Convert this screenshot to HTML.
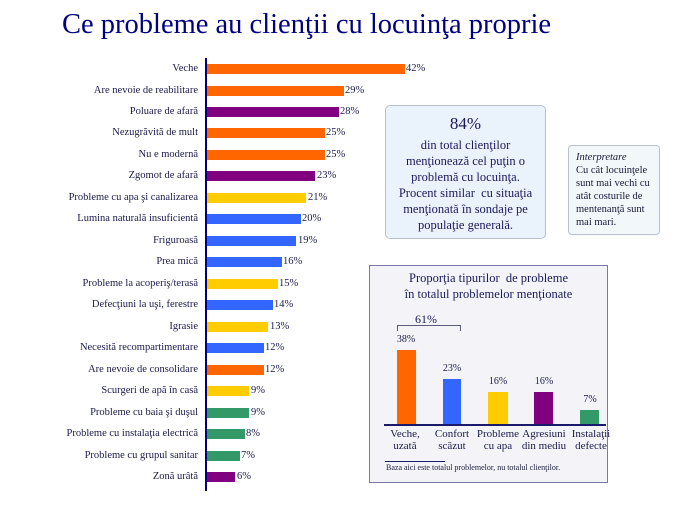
<!DOCTYPE html><html><head><meta charset="utf-8"><style>
body{margin:0;width:674px;height:527px;background:#fff;position:relative;overflow:hidden;font-family:"Liberation Serif",serif;color:#1a1a5a}
.a{position:absolute}
.r{position:absolute;left:0;height:16px;width:674px}
.l{position:absolute;left:0;width:198px;text-align:right;font-size:10.5px;line-height:16px;color:#1a1a4a}
.b{position:absolute;left:207px;top:3px;height:10px}
.v{position:absolute;top:0;font-size:10.5px;line-height:16px;color:#1a1a4a}
.O{background:#FF6600}.P{background:#800080}.Y{background:#FFCC00}.B{background:#3366FF}.G{background:#339966}
</style></head><body>
<div class="a" style="left:62px;top:9px;font-size:28.5px;color:#000080;white-space:nowrap">Ce probleme au clienţii cu locuinţa proprie</div>
<div class="a" style="left:205px;top:58px;width:2px;height:433px;background:#000080"></div>

<div class="r" style="top:61px"><div class="l">Veche</div><div class="b O" style="width:198px"></div><div class="v" style="left:406px">42%</div></div>
<div class="r" style="top:82.5px"><div class="l">Are nevoie de reabilitare</div><div class="b O" style="width:137px"></div><div class="v" style="left:345px">29%</div></div>
<div class="r" style="top:104px"><div class="l">Poluare de afară</div><div class="b P" style="width:132px"></div><div class="v" style="left:340px">28%</div></div>
<div class="r" style="top:125.4px"><div class="l">Nezugrăvită de mult</div><div class="b O" style="width:118px"></div><div class="v" style="left:326px">25%</div></div>
<div class="r" style="top:146.9px"><div class="l">Nu e modernă</div><div class="b O" style="width:118px"></div><div class="v" style="left:326px">25%</div></div>
<div class="r" style="top:168.4px"><div class="l">Zgomot de afară</div><div class="b P" style="width:108px"></div><div class="v" style="left:317px">23%</div></div>
<div class="r" style="top:189.8px"><div class="l">Probleme cu apa şi canalizarea</div><div class="b Y" style="width:99px"></div><div class="v" style="left:308px">21%</div></div>
<div class="r" style="top:211.3px"><div class="l">Lumina naturală insuficientă</div><div class="b B" style="width:94px"></div><div class="v" style="left:302px">20%</div></div>
<div class="r" style="top:232.8px"><div class="l">Friguroasă</div><div class="b B" style="width:89px"></div><div class="v" style="left:298px">19%</div></div>
<div class="r" style="top:254.2px"><div class="l">Prea mică</div><div class="b B" style="width:75px"></div><div class="v" style="left:283px">16%</div></div>
<div class="r" style="top:275.7px"><div class="l">Probleme la acoperiş/terasă</div><div class="b Y" style="width:71px"></div><div class="v" style="left:279px">15%</div></div>
<div class="r" style="top:297.2px"><div class="l">Defecţiuni la uşi, ferestre</div><div class="b B" style="width:66px"></div><div class="v" style="left:274px">14%</div></div>
<div class="r" style="top:318.6px"><div class="l">Igrasie</div><div class="b Y" style="width:61px"></div><div class="v" style="left:270px">13%</div></div>
<div class="r" style="top:340.1px"><div class="l">Necesită recompartimentare</div><div class="b B" style="width:57px"></div><div class="v" style="left:265px">12%</div></div>
<div class="r" style="top:361.6px"><div class="l">Are nevoie de consolidare</div><div class="b O" style="width:57px"></div><div class="v" style="left:265px">12%</div></div>
<div class="r" style="top:383px"><div class="l">Scurgeri de apă în casă</div><div class="b Y" style="width:42px"></div><div class="v" style="left:251px">9%</div></div>
<div class="r" style="top:404.5px"><div class="l">Probleme cu baia şi duşul</div><div class="b G" style="width:42px"></div><div class="v" style="left:251px">9%</div></div>
<div class="r" style="top:426px"><div class="l">Probleme cu instalaţia electrică</div><div class="b G" style="width:38px"></div><div class="v" style="left:246px">8%</div></div>
<div class="r" style="top:447.5px"><div class="l">Probleme cu grupul sanitar</div><div class="b G" style="width:33px"></div><div class="v" style="left:241px">7%</div></div>
<div class="r" style="top:469px"><div class="l">Zonă urâtă</div><div class="b P" style="width:28px"></div><div class="v" style="left:237px">6%</div></div>

<div class="a" style="left:385px;top:105px;width:159px;height:132px;background:#EAF2FC;border:1px solid #b8c0cc;border-radius:5px;text-align:center;color:#1a1a5a">
<div style="font-size:17px;margin-top:8px;line-height:20px">84%</div>
<div style="font-size:12.5px;line-height:16px;margin-top:3px">din total clienţilor<br>menţionează cel puţin o<br>problemă cu locuinţa.<br>Procent similar&nbsp; cu situaţia<br>menţionată în sondaje pe<br>populaţie generală.</div></div>

<div class="a" style="left:568px;top:145px;width:92px;height:90px;background:#F2F7FA;border:1px solid #b8c0cc;border-radius:4px;color:#1a1a3a;font-size:10.5px;line-height:13px;box-sizing:border-box;padding:5px 0 0 7px">
<i>Interpretare</i><br>Cu cât locuinţele sunt mai vechi cu atât costurile de mentenanţă sunt mai mari.</div>

<div class="a" style="left:369px;top:265px;width:237px;height:216px;background:#F4F4F8;border:1px solid #7a7aa8"></div>
<div class="a" style="left:370px;top:270px;width:237px;text-align:center;font-size:12.5px;line-height:16px;color:#1a1a5a">Proporţia tipurilor&nbsp; de probleme<br>în totalul problemelor menţionate</div>
<div class="a" style="left:415px;top:312px;font-size:12px;color:#1a1a5a">61%</div>
<div class="a" style="left:397px;top:325px;width:62px;height:5px;border:1px solid #5a5a7a;border-bottom:none"></div>
<div class="a" style="left:397px;top:350px;width:19px;height:74px;background:#FF6600"></div>
<div class="a" style="left:443px;top:379px;width:18px;height:45px;background:#3366FF"></div>
<div class="a" style="left:488px;top:392px;width:20px;height:32px;background:#FFCC00"></div>
<div class="a" style="left:534px;top:392px;width:19px;height:32px;background:#800080"></div>
<div class="a" style="left:580px;top:410px;width:19px;height:14px;background:#339966"></div>
<div class="a" style="left:384px;top:424px;width:222px;height:1.5px;background:#1a1a6a"></div>
<div class="a" style="left:386px;top:334px;width:40px;text-align:center;font-size:10px;color:#1a1a4a">38%</div>
<div class="a" style="left:432px;top:363px;width:40px;text-align:center;font-size:10px;color:#1a1a4a">23%</div>
<div class="a" style="left:478px;top:376px;width:40px;text-align:center;font-size:10px;color:#1a1a4a">16%</div>
<div class="a" style="left:524px;top:376px;width:40px;text-align:center;font-size:10px;color:#1a1a4a">16%</div>
<div class="a" style="left:570px;top:394px;width:40px;text-align:center;font-size:10px;color:#1a1a4a">7%</div>
<div class="a" style="left:380px;top:428px;width:50px;text-align:center;font-size:11px;line-height:12px;color:#1a1a4a">Veche,<br>uzată</div>
<div class="a" style="left:427px;top:428px;width:50px;text-align:center;font-size:11px;line-height:12px;color:#1a1a4a">Confort<br>scăzut</div>
<div class="a" style="left:473px;top:428px;width:50px;text-align:center;font-size:11px;line-height:12px;color:#1a1a4a">Probleme<br>cu apa</div>
<div class="a" style="left:519px;top:428px;width:50px;text-align:center;font-size:11px;line-height:12px;color:#1a1a4a">Agresiuni<br>din mediu</div>
<div class="a" style="left:566px;top:428px;width:50px;text-align:center;font-size:11px;line-height:12px;color:#1a1a4a">Instalaţii<br>defecte</div>
<div class="a" style="left:385px;top:461px;width:60px;height:1px;background:#1a1a6a"></div>
<div class="a" style="left:386px;top:463px;font-size:8px;color:#1a1a3a;white-space:nowrap">Baza aici este totalul problemelor, nu totalul clienţilor.</div>
</body></html>
